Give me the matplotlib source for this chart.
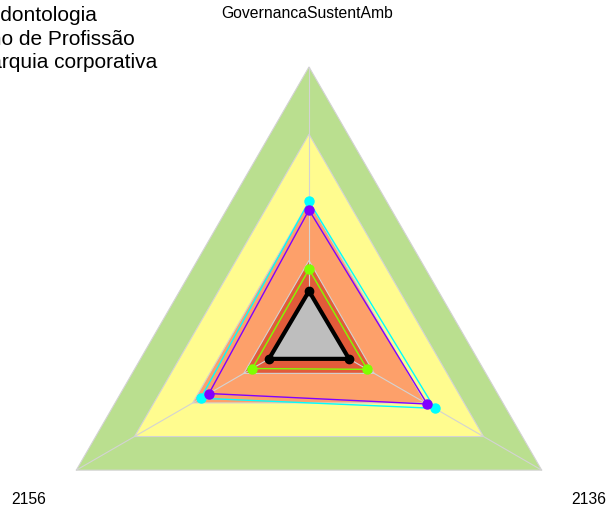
import numpy as np
import matplotlib.pyplot as plt
from matplotlib.patches import Polygon

plt.rcParams['font.family'] = ['Liberation Sans', 'DejaVu Sans']

# === DATA ===
axis_labels = ["GovernancaSustentAmb", "2156", "2136"]
legend_labels = ["Odontologia", "Ensino de Profissão", "Hierarquia corporativa"]

# background bands (fraction of axis max)
band_levels = [0.0, 0.28, 0.50, 0.75, 1.0]
band_colors = ["#E25B3A", "#FDA06A", "#FFFC8F", "#BADF8F"]

# series values, order: top, bottom-left, bottom-right
cyan_vals = [0.50, 0.465, 0.54]
purple_vals = [0.468, 0.43, 0.508]
lime_vals = [0.247, 0.244, 0.25]
black_vals = [0.166, 0.172, 0.172]

# === GEOMETRY ===
angles = np.deg2rad([90, 210, 330])


def to_xy(vals):
    vals = np.asarray(vals, dtype=float)
    return vals * np.cos(angles), vals * np.sin(angles)


fig = plt.figure(figsize=(6.09, 5.11), dpi=100)
ax = fig.add_axes([0, 0, 1, 1])
ax.set_xlim(-1.150, 1.1165)
ax.set_ylim(-0.652, 1.249)
ax.axis('off')

# bands, outer first
for lo, hi, col in reversed(list(zip(band_levels[:-1], band_levels[1:], band_colors))):
    x, y = to_xy([hi] * 3)
    ax.add_patch(Polygon(np.column_stack([x, y]), closed=True, facecolor=col,
                         edgecolor='#D3D3D3', lw=0.8, zorder=1))

# axis spokes
for a in angles:
    ax.plot([0, np.cos(a)], [0, np.sin(a)], color='#D3D3D3', lw=0.8, zorder=2)

# series
def draw_series(vals, color, lw, ms, fill=None, z=3):
    x, y = to_xy(vals)
    xc, yc = np.append(x, x[0]), np.append(y, y[0])
    if fill is not None:
        ax.fill(x, y, color=fill, zorder=z)
    ax.plot(xc, yc, color=color, lw=lw, zorder=z + 0.1)
    ax.plot(x, y, 'o', color=color, ms=ms, zorder=z + 0.2)

draw_series(cyan_vals, '#00FFFF', 1.0, 6.5, z=3)
draw_series(purple_vals, '#8000FF', 1.0, 6.5, z=4)
draw_series(lime_vals, '#80FF00', 1.0, 6.5, z=5)
draw_series(black_vals, 'black', 3.0, 6.0, fill='#BEBEBE', z=6)

# axis labels
fs = 11.3
ax.text(-0.007, 1.197, axis_labels[0], ha='center', va='center', fontsize=fs)
ax.text(-1.042, -0.608, axis_labels[1], ha='center', va='center', fontsize=fs)
ax.text(1.042, -0.608, axis_labels[2], ha='center', va='center', fontsize=fs)

# legend (partly off the left edge)
leg_right = [97, 135, 157]
leg_y = [15, 39, 62]
for lab, xr, yp in zip(legend_labels, leg_right, leg_y):
    fig.text(xr / 609, 1 - yp / 511, lab, ha='right', va='center', fontsize=15)

fig.savefig("out.png", dpi=100)
